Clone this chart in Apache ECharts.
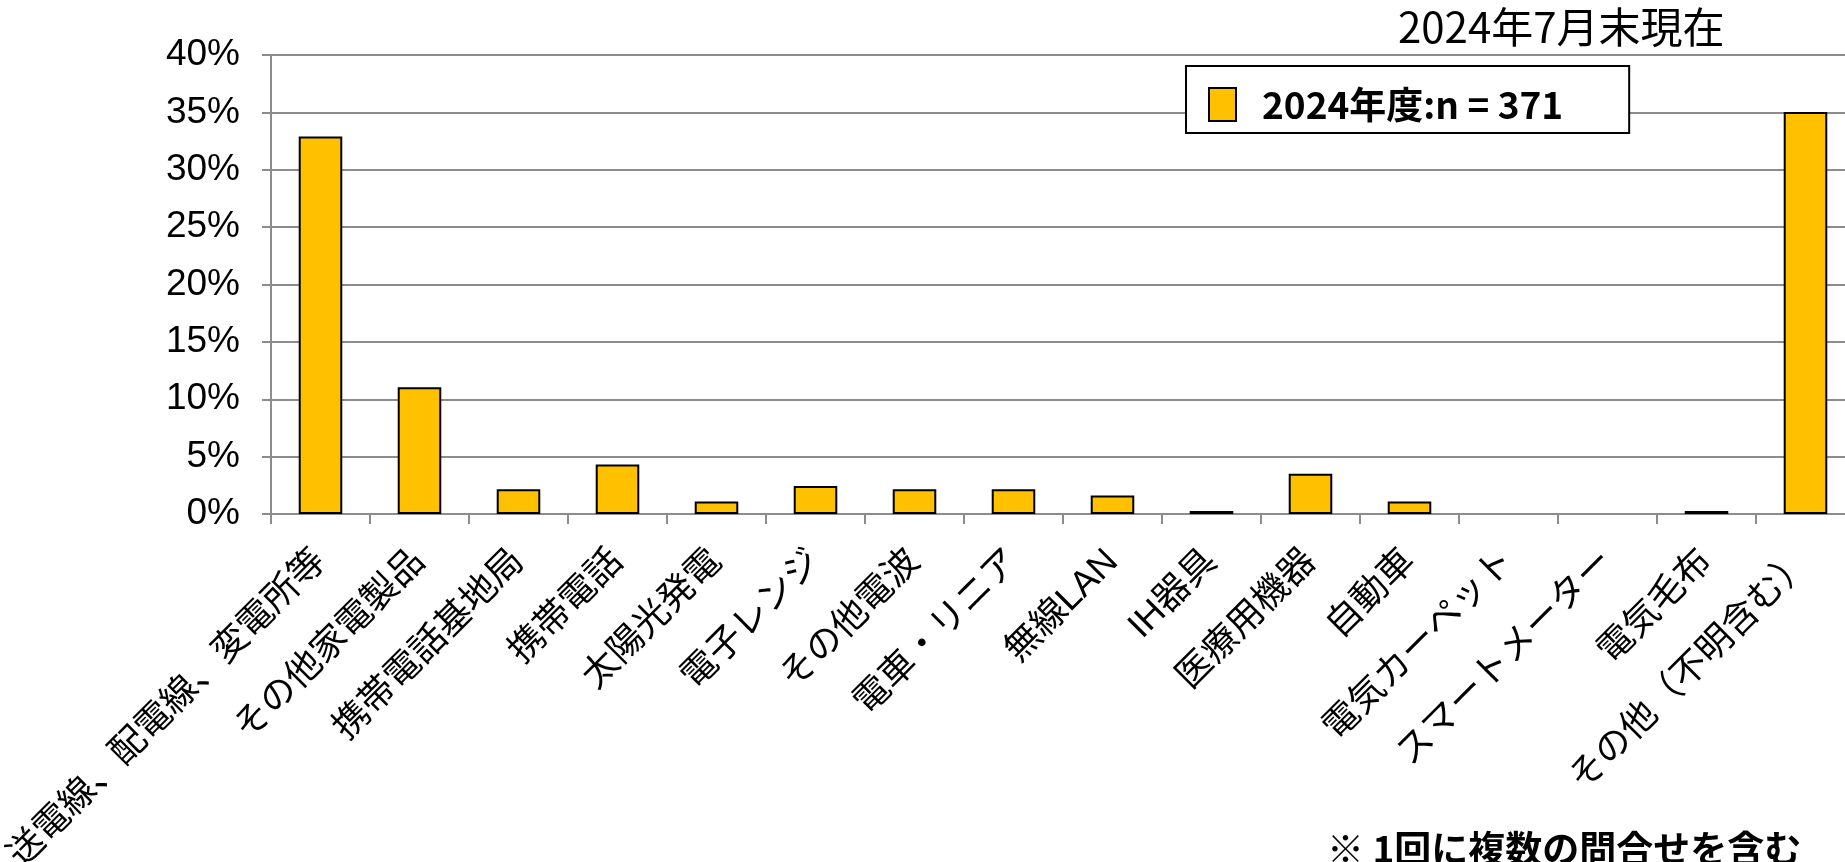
<!DOCTYPE html>
<html>
<head>
<meta charset="utf-8">
<script src="https://cdn.jsdelivr.net/npm/echarts@6/dist/echarts.min.js"></script>
<style>
html,body{margin:0;padding:0;background:#fff;}
#main{width:1845px;height:862px;}
</style>
</head>
<body>
<div id="main"></div>
<script>
const categories = ['送電線、配電線、変電所等','その他家電製品','携帯電話基地局','携帯電話','太陽光発電','電子レンジ','その他電波','電車・リニア','無線LAN','IH器具','医療用機器','自動車','電気カーペット','スマートメーター','電気毛布','その他（不明含む）'];
const values = [32.9, 11.05, 2.16, 4.31, 1.08, 2.43, 2.16, 2.16, 1.62, 0.27, 3.5, 1.08, 0, 0, 0.27, 35.04];
const seriesName = '2024年度:n = 371';
const titleText = '2024年7月末現在';
const noteText = '※ 1回に複数の問合せを含む';
const yTicks = {min: 0, max: 40, interval: 5};

const FONT = "'Liberation Sans', 'Noto Sans CJK JP', sans-serif";
const barData = values.map(v => v === 0 ? {value: v, itemStyle: {borderWidth: 0}} : v);
const chart = echarts.init(document.getElementById('main'));
chart.setOption({
  animation: false,
  backgroundColor: '#fff',
  grid: {left: 271, right: -10, top: 55, bottom: 348, containLabel: false, outerBoundsMode: 'none'},
  legend: {
    left: 1186, top: 66,
    data: [seriesName],
    backgroundColor: '#fff',
    borderColor: '#000', borderWidth: 2, borderRadius: 0,
    padding: [20, 66, 10, 22],
    itemWidth: 27, itemHeight: 33,
    icon: 'rect',
    textStyle: {fontSize: 37, fontWeight: 'bold', color: '#000', fontFamily: "'Noto Sans CJK JP', sans-serif", padding: [0,0,0,21]}
  },
  graphic: [
    {type: 'text', left: 1398, top: 6, style: {text: titleText, fontSize: 42, fill: '#000', fontFamily: "'Noto Sans CJK JP', sans-serif"}},
    {type: 'text', left: 1327, top: 830, style: {text: noteText, fontSize: 37, fontWeight: 'bold', fill: '#000', fontFamily: "'Noto Sans CJK JP', sans-serif"}}
  ],
  xAxis: {
    type: 'category',
    data: categories,
    axisLine: {lineStyle: {color: '#8c8c8c', width: 2}},
    axisTick: {show: true, length: 10, lineStyle: {color: '#8c8c8c', width: 2}},
    axisLabel: {interval: 0, rotate: 45, fontSize: 36, color: '#000', fontFamily: FONT, margin: 42}
  },
  yAxis: {
    type: 'value',
    min: yTicks.min, max: yTicks.max, interval: yTicks.interval,
    axisLine: {show: true, lineStyle: {color: '#8c8c8c', width: 2}},
    axisTick: {show: true, length: 9, lineStyle: {color: '#8c8c8c', width: 2}},
    splitLine: {show: true, lineStyle: {color: '#8c8c8c', width: 2}},
    axisLabel: {formatter: '{value}%', fontSize: 37, color: '#000', fontFamily: FONT, margin: 31}
  },
  series: [{
    name: seriesName,
    type: 'bar',
    data: barData,
    barWidth: '44%',
    itemStyle: {color: '#FFC000', borderColor: '#000', borderWidth: 2}
  }]
});
</script>
</body>
</html>
